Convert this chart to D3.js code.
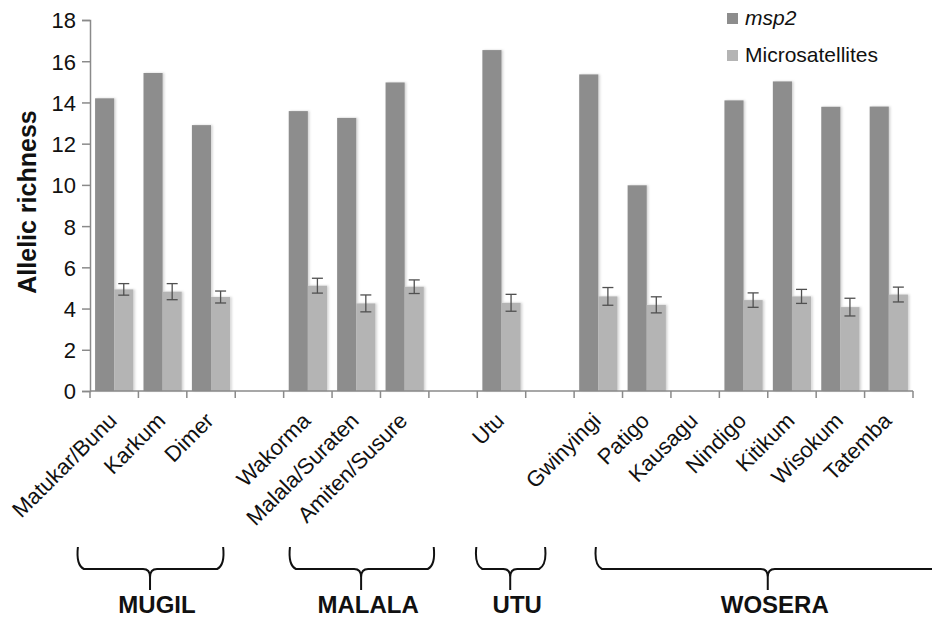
<!DOCTYPE html>
<html>
<head>
<meta charset="utf-8">
<script src="https://cdn.jsdelivr.net/npm/d3@7"></script>
<style>
    body { margin: 0; background: #fff; }
    #chart text { font-family: Arial, "Liberation Sans", sans-serif; fill: #111; }
</style>
</head>
<body>
<div id="chart"></div>
<script>
// Allelic richness per site: msp2 vs microsatellites (blank slots separate the areas)
const sites = ['Matukar/Bunu', 'Karkum', 'Dimer', '', 'Wakorma', 'Malala/Suraten', 'Amiten/Susure', '',
    'Utu', '', 'Gwinyingi', 'Patigo', 'Kausagu', 'Nindigo', 'Kitikum', 'Wisokum', 'Tatemba'];
const msp2Values = [14.2, 15.43, 12.9, null, 13.58, 13.25, 14.97, null, 16.54, null, 15.36, 9.98, null, 14.1, 15.02, 13.79, 13.8];
const microValues = [4.93, 4.82, 4.56, null, 5.11, 4.25, 5.06, null, 4.28, null, 4.59, 4.18, null, 4.41, 4.59, 4.07, 4.68];
const microErrors = [0.28, 0.39, 0.29, null, 0.36, 0.41, 0.33, null, 0.41, null, 0.43, 0.39, null, 0.35, 0.34, 0.43, 0.36];
const seriesNames = ['msp2', 'Microsatellites'];
const yTicks = [0, 2, 4, 6, 8, 10, 12, 14, 16, 18];
const groupNames = ['MUGIL', 'MALALA', 'UTU', 'WOSERA'];

function createAllelicChart(container) {
    container.selectAll('*').remove();

    const W = 932, H = 620;
    const plot = { left: 90, right: 913, top: 20, bottom: 391 };
    const colors = { msp2: '#8d8d8d', Microsatellites: '#b4b4b4' };

    const svg = container.append('svg')
        .attr('width', W)
        .attr('height', H);

    // soft edge like the original export
    const filter = svg.append('defs').append('filter')
        .attr('id', 'barShadow')
        .attr('x', '-20%').attr('y', '-5%')
        .attr('width', '140%').attr('height', '110%');
    filter.append('feDropShadow')
        .attr('dx', 1.5).attr('dy', 0)
        .attr('stdDeviation', 1.2)
        .attr('flood-color', '#000')
        .attr('flood-opacity', 0.18);

    const idx = sites.map((s, i) => String(i));
    const x = d3.scaleBand()
        .domain(idx)
        .range([plot.left, plot.right])
        .paddingInner(0.21)
        .paddingOuter(0.105);

    const xInner = d3.scaleBand()
        .domain(seriesNames)
        .range([0, x.bandwidth()]);

    const y = d3.scaleLinear()
        .domain([0, 18])
        .range([plot.bottom, plot.top]);

    // Bars
    const rows = sites.map((s, i) => ({
        i: String(i), msp2: msp2Values[i], micro: microValues[i], err: microErrors[i]
    }));

    const bars = svg.append('g').attr('filter', 'url(#barShadow)');

    bars.selectAll('rect.msp2')
        .data(rows.filter(d => d.msp2 != null))
        .enter()
        .append('rect')
        .attr('class', 'msp2')
        .attr('x', d => x(d.i) + xInner('msp2'))
        .attr('y', d => y(d.msp2))
        .attr('width', xInner.bandwidth())
        .attr('height', d => y(0) - y(d.msp2))
        .attr('fill', colors.msp2);

    bars.selectAll('rect.micro')
        .data(rows.filter(d => d.micro != null))
        .enter()
        .append('rect')
        .attr('class', 'micro')
        .attr('x', d => x(d.i) + xInner('Microsatellites'))
        .attr('y', d => y(d.micro))
        .attr('width', xInner.bandwidth())
        .attr('height', d => y(0) - y(d.micro))
        .attr('fill', colors.Microsatellites);

    // Error bars on the microsatellite bars
    const eb = svg.append('g')
        .attr('stroke', '#505050')
        .attr('stroke-width', 1.3);
    rows.filter(d => d.err != null).forEach(d => {
        const cx = x(d.i) + xInner('Microsatellites') + xInner.bandwidth() / 2;
        const y1 = y(d.micro + d.err), y2 = y(d.micro - d.err);
        eb.append('line').attr('x1', cx).attr('x2', cx).attr('y1', y1).attr('y2', y2);
        eb.append('line').attr('x1', cx - 5.5).attr('x2', cx + 5.5).attr('y1', y1).attr('y2', y1);
        eb.append('line').attr('x1', cx - 5.5).attr('x2', cx + 5.5).attr('y1', y2).attr('y2', y2);
    });

    // Y axis
    const yAxis = svg.append('g')
        .attr('transform', `translate(${plot.left},0)`)
        .call(d3.axisLeft(y).tickValues(yTicks).tickSize(8).tickSizeOuter(8).tickPadding(6));
    yAxis.selectAll('path, line').attr('stroke', '#8a8a8a').attr('stroke-width', 1.5);
    yAxis.selectAll('text').style('font-size', '22px').attr('dy', '0.36em');

    // X axis: line plus ticks at every category boundary
    const xAxis = svg.append('g');
    xAxis.append('line')
        .attr('x1', plot.left).attr('x2', plot.right)
        .attr('y1', y(0)).attr('y2', y(0))
        .attr('stroke', '#8a8a8a').attr('stroke-width', 1.5);
    d3.range(sites.length + 1).forEach(k => {
        const tx = plot.left + k * x.step();
        xAxis.append('line')
            .attr('x1', tx).attr('x2', tx)
            .attr('y1', y(0)).attr('y2', y(0) + 7)
            .attr('stroke', '#8a8a8a').attr('stroke-width', 1.5);
    });

    svg.append('g').selectAll('text.site')
        .data(rows.filter(d => sites[+d.i] !== ''))
        .enter()
        .append('text')
        .attr('class', 'site')
        .attr('transform', d => `translate(${x(d.i) + x.bandwidth() / 2 + 4},${y(0) + 31}) rotate(-45)`)
        .attr('text-anchor', 'end')
        .style('font-size', '22px')
        .text(d => sites[+d.i]);

    // Y title
    svg.append('text')
        .attr('transform', `translate(36,202) rotate(-90)`)
        .attr('text-anchor', 'middle')
        .style('font-size', '25px')
        .style('font-weight', '700')
        .text('Allelic richness');

    // Legend
    const legend = svg.append('g').attr('transform', 'translate(727,13)');
    seriesNames.forEach((name, k) => {
        const row = legend.append('g').attr('transform', `translate(0,${k * 37})`);
        row.append('rect')
            .attr('width', 11).attr('height', 11)
            .attr('fill', colors[name]);
        row.append('text')
            .attr('x', 18).attr('y', 12)
            .style('font-size', '21px')
            .style('font-style', k === 0 ? 'italic' : 'normal')
            .text(name);
    });

    // Area braces (left, right, tip in category steps from the axis origin)
    const braceSpans = [[-0.25, 2.75, 1.24], [4.13, 7.1, 5.6], [7.98, 9.4, 8.68], [10.45, 17.9, 14.0]];
    const pos = u => plot.left + u * x.step();
    const bTop = 547, bMid = 569, bTip = 590;
    const braces = svg.append('g');
    groupNames.forEach((name, k) => {
        const [l, r, t] = braceSpans[k].map(pos);
        const p = d3.path();
        p.moveTo(l, bTop);
        p.quadraticCurveTo(l - 2, bMid - 4, l + 6, bMid);
        p.lineTo(t - 7, bMid);
        p.quadraticCurveTo(t, bMid, t, bMid + 8);
        p.lineTo(t, bTip);
        p.moveTo(t, bMid + 8);
        p.quadraticCurveTo(t, bMid, t + 7, bMid);
        p.lineTo(r - 6, bMid);
        p.quadraticCurveTo(r + 2, bMid - 4, r, bTop);
        braces.append('path')
            .attr('d', p.toString())
            .attr('fill', 'none')
            .attr('stroke', '#111')
            .attr('stroke-width', 2);
        braces.append('text')
            .attr('x', t + 7)
            .attr('y', 613)
            .attr('text-anchor', 'middle')
            .style('font-size', '24px')
            .style('font-weight', '700')
            .text(name);
    });
}

createAllelicChart(d3.select('#chart'));
</script>
</body>
</html>
